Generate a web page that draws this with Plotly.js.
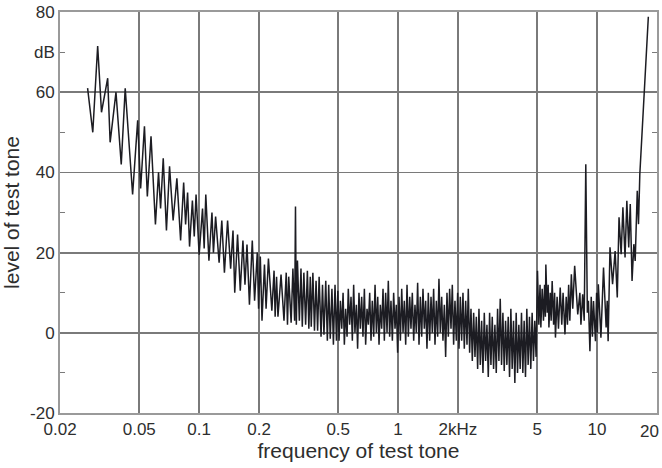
<!DOCTYPE html>
<html>
<head>
<meta charset="utf-8">
<script src="https://cdn.plot.ly/plotly-3.0.1.min.js"></script>
<style>
  html, body { margin: 0; padding: 0; background: #ffffff; }
  #chart { width: 662px; height: 468px; }
</style>
</head>
<body>
<div id="chart"></div>
<script>
// Tracing of test-tone level vs frequency (kHz, dB)
const freqKHz = [
  0.0275,0.0292,0.0309,0.0323,0.0347,0.0357,0.0382,0.0406,0.0425,0.0463,0.0491,0.0508,0.0531,0.0549,0.0573,0.0603,
  0.0625,0.064,0.066,0.0685,0.071,0.074,0.0773,0.0807,0.0836,0.0855,0.0875,0.0895,0.0925,0.0945,0.0965,0.1,
  0.104,0.106,0.108,0.112,0.116,0.118,0.121,0.126,0.13,0.134,0.139,0.144,0.148,0.151,0.156,0.161,
  0.166,0.17,0.174,0.179,0.185,0.19,0.196,0.199,0.203,0.207,0.213,0.217,0.223,0.232,0.238,0.241,
  0.245,0.249,0.258,0.267,0.274,0.278,0.282,0.29,0.296,0.302,0.305,0.308,0.312,0.319,0.325,0.33,
  0.336,0.343,0.35,0.356,0.362,0.366,0.373,0.38,0.387,0.394,0.401,0.41,0.417,0.424,0.433,0.441,
  0.448,0.456,0.465,0.473,0.482,0.49,0.498,
  0.505,0.513,0.521,0.529,0.537,0.545,0.554,0.562,0.571,0.58,
  0.589,0.598,0.607,0.617,0.626,0.636,0.646,0.656,0.666,0.677,
  0.687,0.698,0.709,0.72,0.731,0.742,0.754,0.766,0.778,0.79,
  0.802,0.814,0.827,0.84,0.853,0.866,0.88,0.893,0.907,0.921,
  0.936,0.95,0.965,0.98,0.995,1.011,1.027,1.043,1.059,1.075,
  1.092,1.109,1.126,1.144,1.161,1.179,1.198,1.216,1.235,1.254,
  1.274,1.294,1.314,1.334,1.355,1.376,1.397,1.419,1.441,1.464,
  1.486,1.509,1.533,1.557,1.581,1.605,1.63,1.656,1.681,1.708,
  1.734,1.761,1.789,1.816,1.845,1.873,1.902,1.932,1.962,1.993,
  2.024,
  2.055,2.087,2.119,2.152,2.186,2.22,2.254,2.289,2.325,2.361,
  2.398,2.435,2.473,2.511,2.55,2.59,2.63,2.671,2.712,2.754,
  2.797,2.84,2.884,2.929,2.974,3.02,3.067,3.115,3.163,3.212,
  3.262,3.312,3.364,3.416,3.469,3.523,3.577,3.633,3.689,3.746,
  3.804,3.863,3.923,3.984,4.046,4.108,4.172,4.237,4.302,4.369,
  4.437,4.505,4.575,4.646,4.718,4.791,4.865,4.94,
  5.02,5.1,5.17,5.22,5.3,5.38,5.45,5.5,5.53,5.62,5.68,5.73,5.82,5.88,5.95,6.05,
  6.12,6.18,6.3,6.4,6.53,6.65,6.75,6.9,7.0,7.1,7.2,7.3,7.43,7.55,7.72,8.0,
  8.2,8.3,8.47,8.62,8.78,8.94,9.05,9.21,9.35,9.48,9.6,9.82,9.95,10.05,10.15,10.46,
  10.78,11.11,11.25,11.37,11.62,11.97,12.33,12.64,12.9,13.22,13.49,13.83,14.12,14.43,14.69,15.0,
  15.31,15.55,15.93,16.16,16.41,16.66,17.16,17.43,18.11
];
const levelDB = [
  61,50,71.5,55,63.5,47.5,60,42,61,34.5,53,36,51.5,34,49,27,
  40,31,43.5,25.5,41.5,28,38.5,23,37.5,27,35,21.5,33,24,34.5,19.5,
  31,21,34.5,18,30,20,29,17.5,28,15,28,16,25.5,10,24.5,10.5,
  23,12,22,7,23,8,20,6,19,3,17,6,18.5,5.5,15.5,4,
  14,4,14.5,3,15,2,14,2.5,16,3,31.5,2,18,3,16,1.5,
  15,2,15.5,1,14,1.5,15,0.5,13,0.5,14,-1,12,-0.5,13,-2,
  12,-1.5,11,-3,12,-2,10.5,
  -2,8,1,10,-3,6,-1,11,2,9,
  -2,12,0,7,-4,10,1,9,-1,11,
  -3,6,2,10,-2,8,-1,12,0,9,
  -3,7,1,11,-2,10,0,13,-1,8,
  -2,10,1,7,-5,9,-2,11,0,8,
  -3,12,-1,9,1,10,-2,7,0,12.5,
  -3,9,-1,11,1,8,-4,10,-2,9,
  0,11,-3,8,-1,13.5,0,9,-2,7,
  -6,10,-1,11,1,12,-3,8,-2,10,
  -4,
  9,-2,10,-4,8,-3,11,-5,6,-7,
  5,-6,4,-9,6,-8,3,-10,5,-7,
  2,-11,5,-8,4,-9,2,-10,6,-7,
  8.5,-8,5,-9.5,3,-8,4,-11,6,-9,
  3,-12.5,5,-10,2,-9,5,-10,3,-11,
  6,-8,4,-9,5,-7,3,-6,
  15.5,2,12,1.3,11,3,12,4,17,5,12,1.3,10,3,12.9,2,
  10,-1.2,9,1,11.3,2,10,-0.4,9,2,12,3,14.6,6,16.7,4.6,
  10,2,9.6,3,42,5,8,-4.6,9,-1,7.9,-2.1,10,0,12.1,-1.2,
  16.3,1.3,8,-2.1,21.3,12.1,20.4,8.8,28.8,19.6,31.3,18.8,32.9,21.3,32.1,12.9,
  22.1,17.9,35.4,27.1,39.6,46,55.4,62.1,78.8
];

// tick labels; the last one ("20") sits at the right edge and is placed as a label flush with it
const xTickVals = [0.02, 0.05, 0.1, 0.2, 0.5, 1, 2, 5, 10, 20];
const xTickText = ['0.02', '0.05', '0.1', '0.2', '0.5', '1', '2kHz', '5', '10', ''];
const xEdgeLabel = '20';
const yTickVals = [-20, 0, 20, 40, 60, 80];
const yTickText = ['-20', '0', '20', '40', '60', '80'];
const yMinorVals = [-10, 10, 30, 50, 70];
const yUnitLabel = 'dB';
const yUnitAt = 70;

const FONT = 'Liberation Sans, Arial, Helvetica, sans-serif';
const INK = '#2e2e2e';
const GRID = '#7a7a7a';

const trace = {
  type: 'scatter',
  mode: 'lines',
  x: freqKHz,
  y: levelDB,
  line: { color: '#1c1c22', width: 1.5 },
  hoverinfo: 'skip'
};

const layout = {
  width: 662,
  height: 468,
  margin: { l: 60, r: 5, t: 12, b: 55 },
  paper_bgcolor: '#ffffff',
  plot_bgcolor: '#ffffff',
  showlegend: false,
  font: { family: FONT, color: INK, size: 17 },
  xaxis: {
    type: 'log',
    range: [Math.log10(0.02) - 0.0004, Math.log10(20) + 0.0004],
    tickmode: 'array',
    tickvals: xTickVals,
    ticktext: xTickText,
    ticks: '',
    showgrid: true,
    gridcolor: GRID,
    gridwidth: 1.8,
    zeroline: false,
    showline: true,
    linecolor: '#9a9a9a',
    linewidth: 2,
    mirror: true,
    tickfont: { family: FONT, size: 17, color: INK },
    title: { text: 'frequency of test tone', font: { family: FONT, size: 21, color: INK }, standoff: 4 }
  },
  yaxis: {
    range: [-20, 80],
    tickmode: 'array',
    tickvals: yTickVals,
    ticktext: yTickText,
    ticks: 'inside',
    ticklen: 5,
    tickcolor: GRID,
    showgrid: true,
    gridcolor: GRID,
    gridwidth: 1.8,
    zeroline: false,
    showline: true,
    linecolor: '#9a9a9a',
    linewidth: 2,
    mirror: 'ticks',
    minor: { tickvals: yMinorVals, ticks: 'inside', ticklen: 5, tickcolor: GRID, showgrid: false },
    tickfont: { family: FONT, size: 17, color: INK },
    title: { text: 'level of test tone', font: { family: FONT, size: 21, color: INK }, standoff: 6 }
  },
  annotations: [
    {
      xref: 'paper', yref: 'y', x: 0, y: yUnitAt,
      text: yUnitLabel, showarrow: false,
      xanchor: 'right', yanchor: 'middle', xshift: -3,
      font: { family: FONT, size: 17, color: INK }
    },
    {
      xref: 'paper', yref: 'paper', x: 1, y: 0,
      text: xEdgeLabel, showarrow: false,
      xanchor: 'right', yanchor: 'top', xshift: 4, yshift: -7,
      font: { family: FONT, size: 17, color: INK }
    }
  ]
};

Plotly.newPlot('chart', [trace], layout, { displayModeBar: false, staticPlot: true });
</script>
</body>
</html>
